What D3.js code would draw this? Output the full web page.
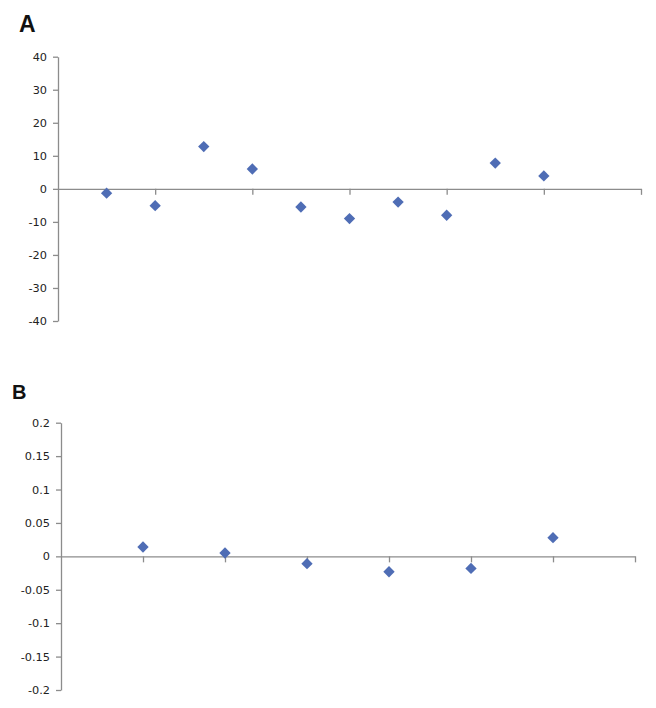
<!DOCTYPE html>
<html>
<head>
<meta charset="utf-8">
<script src="https://cdn.jsdelivr.net/npm/d3@7"></script>
<style>
  body { margin: 0; background: #fff; }
  .tick text { font-family: "DejaVu Sans", Verdana, sans-serif; font-size: 11.3px; fill: #222; }
  .panel-label { font-family: "Liberation Sans", Arial, sans-serif; font-weight: bold; fill: #111; }
</style>
</head>
<body>
<div id="root"></div>
<script>
// panel A: 10 points
var xA = [1, 2, 3, 4, 5, 6, 7, 8, 9, 10]
var yA = [-1.3, -5.1, 12.8, 6.0, -5.5, -9.0, -4.0, -8.0, 7.8, 3.9]
var yTicksA = [-40, -30, -20, -10, 0, 10, 20, 30, 40]
var xTicksA = [0, 2, 4, 6, 8, 10, 12]

// panel B: 6 points
var xB = [1, 2, 3, 4, 5, 6]
var yB = [0.014, 0.005, -0.011, -0.023, -0.018, 0.028]
var yTicksB = [-0.2, -0.15, -0.1, -0.05, 0, 0.05, 0.1, 0.15, 0.2]
var yLabelsB = ['-0.2', '-0.15', '-0.1', '-0.05', '0', '0.05', '0.1', '0.15', '0.2']
var xTicksB = [0, 1, 2, 3, 4, 5, 6, 7]

var svg = d3.select('#root').append('svg').attr('width', 656).attr('height', 708)

var axisColor = '#8c8c8c'
var markColor = '#4f6db5'

function panel(opt) {
    var x = d3.scaleLinear().domain(opt.xDomain).range(opt.xRange)
    var y = d3.scaleLinear().domain(opt.yDomain).range(opt.yRange)
    var g = svg.append('g')

    // y axis
    var ya = g.append('g')
        .attr('transform', 'translate(' + opt.xRange[0] + ',0)')
        .call(d3.axisLeft(y).tickValues(opt.yTicks).tickSize(5).tickSizeOuter(0).tickPadding(6)
            .tickFormat(function (d, i) { return opt.yLabels[i] }))
    ya.select('.domain').attr('stroke', axisColor).attr('stroke-width', 1.3)
    ya.selectAll('.tick line').attr('stroke', axisColor).attr('stroke-width', 1.3)

    // x axis at zero, ticks only
    var xa = g.append('g')
        .attr('transform', 'translate(0,' + y(0) + ')')
        .call(d3.axisBottom(x).tickValues(opt.xTicks).tickSize(6).tickSizeOuter(0).tickFormat(''))
    xa.select('.domain').attr('stroke', axisColor).attr('stroke-width', 1.3)
    xa.selectAll('.tick line').attr('stroke', axisColor).attr('stroke-width', 1.3)
    xa.selectAll('.tick').filter(function (d) { return d == opt.xDomain[0] }).remove()

    // diamonds
    g.selectAll('path.pt').data(opt.xs).enter()
        .append('path')
        .attr('class', 'pt')
        .attr('d', d3.symbol().type(d3.symbolSquare).size(64))
        .attr('transform', function (d, i) {
            return 'translate(' + x(d) + ',' + y(opt.ys[i]) + ') rotate(45)'
        })
        .attr('fill', markColor)

    svg.append('text').attr('class', 'panel-label')
        .attr('x', opt.label.x).attr('y', opt.label.y)
        .style('font-size', opt.label.size + 'px')
        .text(opt.label.text)
}

panel({
    xs: xA, ys: yA,
    xDomain: [0, 12], xRange: [58, 641],
    yDomain: [-40, 40], yRange: [321, 56.7],
    yTicks: yTicksA, yLabels: yTicksA.map(String), xTicks: xTicksA,
    label: { text: 'A', x: 19, y: 32, size: 23 }
})

panel({
    xs: xB, ys: yB,
    xDomain: [0, 7], xRange: [61, 635],
    yDomain: [-0.2, 0.2], yRange: [690, 422.7],
    yTicks: yTicksB, yLabels: yLabelsB, xTicks: xTicksB,
    label: { text: 'B', x: 12, y: 399, size: 20 }
})
</script>
</body>
</html>
